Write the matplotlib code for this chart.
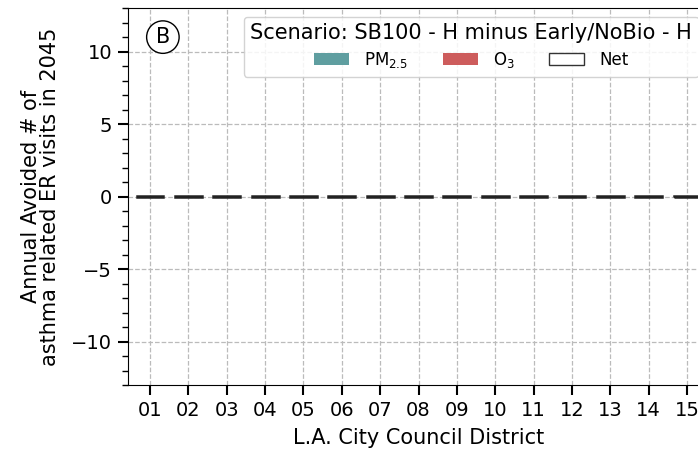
"""
Avoided asthma ER visits by L.A. City Council District (panel B)
"""

import numpy as np
import matplotlib
matplotlib.use('Agg')
import matplotlib.pyplot as plt
from matplotlib.patches import Patch
from matplotlib.ticker import MultipleLocator

districts = ['01', '02', '03', '04', '05', '06', '07', '08', '09', '10',
             '11', '12', '13', '14', '15']
pm25 = [0.02, 0.03, 0.02, 0.02, 0.03, 0.06, 0.05, 0.02, 0.02, 0.02,
        0.02, 0.02, 0.02, 0.02, 0.03]
o3 = [0.0] * 15
net = [p + o for p, o in zip(pm25, o3)]

scenario = 'Scenario: SB100 - H minus Early/NoBio - H'

fig = plt.figure(figsize=(6.98, 4.49), dpi=100)
# axes run a little past the right edge of the figure, like the cropped original
ax = fig.add_axes([0.1834, 0.1425, 0.8324, 0.8395])

x = np.arange(len(districts))
width = 0.7
ax.bar(x, pm25, width, color='cadetblue', zorder=2)
ax.bar(x, o3, width, bottom=pm25, color='indianred', zorder=2)
ax.bar(x, net, width, facecolor='none', edgecolor='#222222', linewidth=1.8, zorder=3)

ax.set_ylim(-13, 13)
ax.set_xlim(-0.574, len(districts) - 0.426)
ax.set_xticks(x)
ax.set_xticklabels(districts)
ax.yaxis.set_major_locator(MultipleLocator(5))
ax.yaxis.set_minor_locator(MultipleLocator(1))
ax.tick_params(axis='both', which='major', labelsize=14, length=7, width=1.5)
ax.tick_params(axis='x', which='major', pad=4.5)
ax.tick_params(axis='y', which='major', pad=4.5)
ax.tick_params(axis='y', which='minor', length=4, width=1)
ax.grid(True, which='major', linestyle='--', color='#bbbbbb', linewidth=0.9, zorder=0)
ax.set_axisbelow(True)

ax.set_xlabel('L.A. City Council District', fontsize=15, labelpad=6)
ax.set_ylabel('Annual Avoided # of\nasthma related ER visits in 2045',
              fontsize=15, linespacing=0.95, labelpad=8)

ax.text(0.060, 0.923, 'B', transform=ax.transAxes, fontsize=15,
        ha='center', va='center',
        bbox=dict(boxstyle='circle,pad=0.3', facecolor='white', edgecolor='black'))

handles = [Patch(facecolor='cadetblue', label=r'PM$_{2.5}$'),
           Patch(facecolor='indianred', label=r'O$_3$'),
           Patch(facecolor='white', edgecolor='#333333', label='Net')]
leg = ax.legend(handles=handles, ncol=3, title=scenario, loc='upper center',
                bbox_to_anchor=(0.5904, 0.977), borderaxespad=0,
                fontsize=12, title_fontsize=15, framealpha=0.85,
                handlelength=2.1, handleheight=0.72, handletextpad=0.9,
                columnspacing=2.1, labelspacing=0.4)
leg.set_zorder(5)

fig.savefig('out.png', dpi=100)
